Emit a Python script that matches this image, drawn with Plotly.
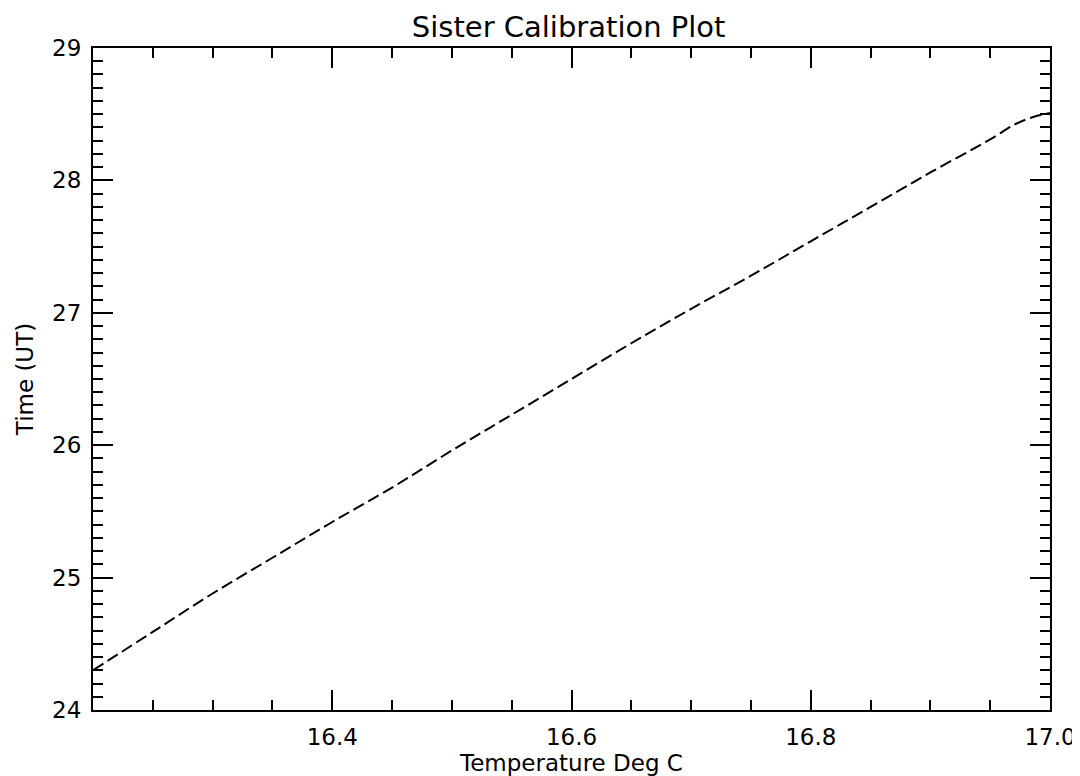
import plotly.graph_objects as go

temperature = [16.20, 16.25, 16.30, 16.35, 16.40, 16.45, 16.50, 16.55, 16.60,
               16.65, 16.70, 16.75, 16.80, 16.85, 16.90, 16.95, 16.97, 16.98,
               16.99, 17.00]
time_ut = [24.30, 24.59, 24.88, 25.15, 25.42, 25.68, 25.96, 26.23, 26.50,
           26.77, 27.03, 27.28, 27.54, 27.80, 28.06, 28.31, 28.42, 28.46,
           28.49, 28.51]

x_tickvals = [16.4, 16.6, 16.8, 17.0]
x_ticktext = ["16.4", "16.6", "16.8", "17.0"]
y_tickvals = [24, 25, 26, 27, 28, 29]
y_ticktext = ["24", "25", "26", "27", "28", "29"]

FONT = "DejaVu Sans"

fig = go.Figure()
fig.add_trace(go.Scatter(
    x=temperature, y=time_ut, mode="lines",
    line=dict(color="black", width=2, dash="12px,5px"),
    line_shape="spline",
    showlegend=False,
))

axis_common = dict(
    showline=True, linecolor="black", linewidth=2, mirror="ticks",
    ticks="inside", ticklen=20, tickwidth=1.8, tickcolor="black",
    showgrid=False, zeroline=False, automargin=False,
    tickfont=dict(family=FONT, size=23, color="black"),
    ticklabelstandoff=5,
)

fig.update_xaxes(
    range=[16.2, 17.0], tickvals=x_tickvals, ticktext=x_ticktext,
    minor=dict(dtick=0.05, tick0=16.2, ticks="inside", ticklen=10,
               tickwidth=1.5, tickcolor="black", showgrid=False),
    title=dict(text="Temperature Deg C", font=dict(family=FONT, size=23, color="black"),
               standoff=2),
    **axis_common,
)
fig.update_yaxes(
    range=[24, 29], tickvals=y_tickvals, ticktext=y_ticktext,
    minor=dict(dtick=0.1, tick0=24, ticks="inside", ticklen=10,
               tickwidth=1.5, tickcolor="black", showgrid=False),
    title=dict(text="Time (UT)", font=dict(family=FONT, size=23, color="black"),
               standoff=12),
    **axis_common,
)

# page has a small body margin; compensate so the plot sits where the reference does
fig.update_layout(
    width=1072, height=768,
    margin=dict(l=85, r=30, t=40, b=66),
    paper_bgcolor="white", plot_bgcolor="white",
    title=dict(text="Sister Calibration Plot", x=0.523, xanchor="center",
               y=0.976, yanchor="middle",
               font=dict(family=FONT, size=29, color="black")),
)

fig.write_html("out.html")
